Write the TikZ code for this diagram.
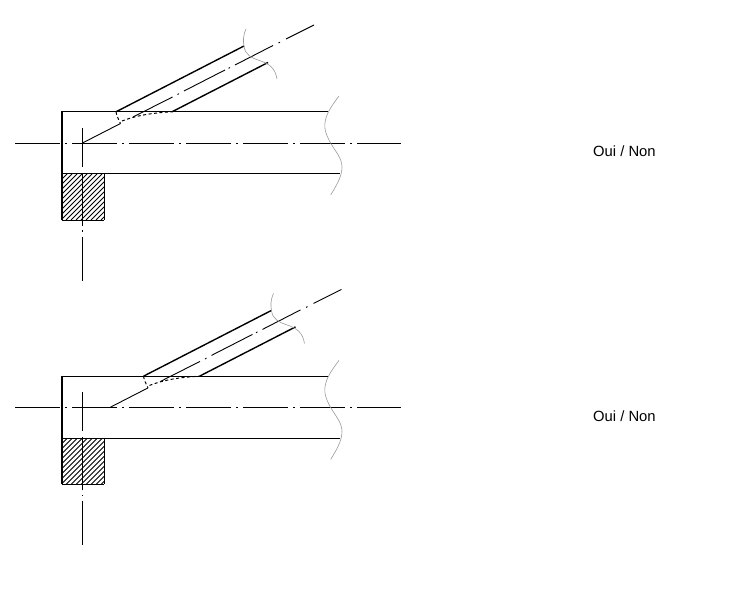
\documentclass[tikz,border=0pt]{standalone}
\usepackage{fontspec}
\setmainfont{Liberation Sans}
\usetikzlibrary{positioning}

\begin{document}
\begin{tikzpicture}[
  x=1pt, y=-1pt,
  wall/.style={black, line width=1pt},
  heavy/.style={black, line width=1.4pt},
  axisline/.style={black, line width=0.9pt},
  midline/.style={axisline, dash pattern=on 44.5pt off 5.5pt on 1.5pt off 5.5pt},
  hidden/.style={black, line width=1pt, dash pattern=on 3pt off 2.5pt},
  breakline/.style={black!40, line width=0.6pt},
  hatchline/.style={black, line width=0.85pt},
  answer/.style={font=\fontsize{14.8}{16}\selectfont, inner sep=0pt, text=black}
]
\useasboundingbox (0,0) rectangle (734,612);

\foreach \dy/\dx/\name in {0/0/upper, 264.4/27.5/lower} {
  \begin{scope}[yshift=-\dy pt]
    % hatched block
    \begin{scope}
      \clip (62,174) rectangle (104,220);
      \foreach \h in {-46,-41,...,44}
        \draw [hatchline] (62+\h,220) -- (108+\h,174);
    \end{scope}
    \draw [heavy] (62,220.3) -- (104,220.3);
    \draw [wall] (104,220) -- (104,174);
    % main profile
    \draw [wall] (328,111.8) -- (62,111.8);
    \draw [heavy] (62,111.2) -- (62,220);
    \draw [wall] (62,174) -- (340,174);
    % axes
    \draw [midline] (15,143) -- (401,143);
    \draw [axisline] (82.5,128) -- (82.5,167);
    \draw [axisline] (82.5,173) -- (82.5,226);
    \draw [axisline] (82.5,230.5) -- (82.5,232);
    \draw [axisline] (82.5,237) -- (82.5,281);
    % break lines
    \draw [breakline] (339,96) .. controls (333,104) and (328,111) .. (326,118)
      .. controls (323,128) and (326,134) .. (330,142)
      .. controls (335,151) and (342,158) .. (342,167)
      .. controls (342,177) and (336,186) .. (330.7,195);
    \begin{scope}[xshift=\dx pt]
      % oblique branch
      \draw [heavy] (116,111.8) -- (244,46);
      \draw [heavy] (172,111.8) -- (268,62.5);
      \draw [axisline] (82.5,143) -- (120.5,123.5);
      \draw [hidden] (116,111.8) -- (117,116) -- (120.5,123.5);
      \draw [hidden] (122,121) .. controls (135,116) and (150,113) .. (172,111.8);
      \draw [axisline] (133,117) -- (172.5,97);
      \draw [axisline] (177.5,94.5) -- (179,93.7);
      \draw [axisline] (184,91) -- (225,70);
      \draw [axisline] (228.5,68.3) -- (230,67.5);
      \draw [axisline] (235,65) -- (273,45.5);
      \draw [axisline] (278.5,43) -- (280,42.2);
      \draw [axisline] (286,39) -- (314,25);
      \draw [breakline] (246,29) .. controls (243,36) and (243,41) .. (244,46)
        .. controls (245,55) and (252,58) .. (258,60)
        .. controls (270,64) and (275,68) .. (277,79);
    \end{scope}
  \end{scope}
  \node [answer, anchor=west] (answer\name) at (593,151.5+\dy) {Oui / Non};
}
\end{tikzpicture}
\end{document}
